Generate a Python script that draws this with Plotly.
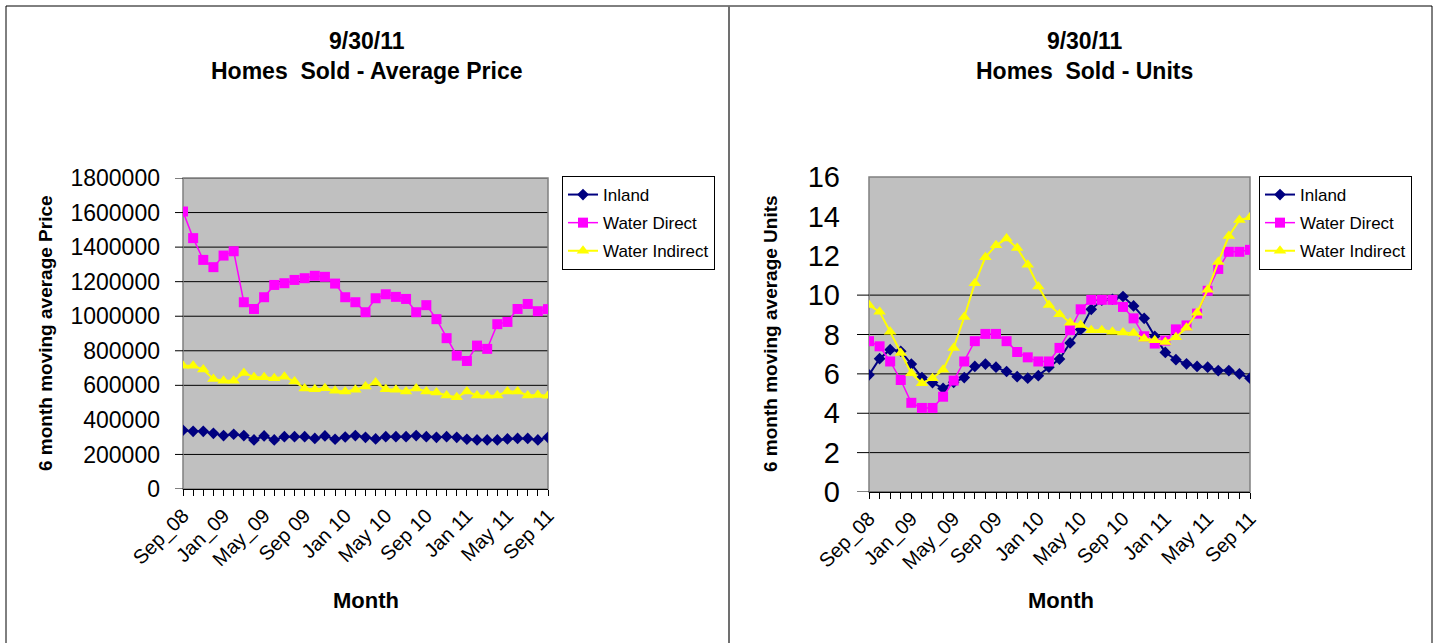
import plotly.graph_objects as go

# ---------------- data ----------------
months = ["Sep_08", "Oct_08", "Nov_08", "Dec_08", "Jan_09", "Feb_09", "Mar_09", "Apr_09",
          "May_09", "Jun_09", "Jul_09", "Aug_09", "Sep 09", "Oct 09", "Nov 09", "Dec 09",
          "Jan 10", "Feb 10", "Mar 10", "Apr 10", "May 10", "Jun 10", "Jul 10", "Aug 10",
          "Sep 10", "Oct 10", "Nov 10", "Dec 10", "Jan 11", "Feb 11", "Mar 11", "Apr 11",
          "May 11", "Jun 11", "Jul 11", "Aug 11", "Sep 11"]

price_inland = [340000, 334000, 334000, 322000, 309000, 317000, 309000, 284000, 307000, 284000,
                303000, 303000, 303000, 293000, 307000, 288000, 301000, 309000, 299000, 290000,
                303000, 303000, 303000, 309000, 303000, 299000, 303000, 299000, 288000, 284000,
                284000, 284000, 290000, 293000, 293000, 284000, 299000]
price_water_direct = [1606000, 1452000, 1326000, 1284000, 1351000, 1376000, 1081000, 1042000,
                      1110000, 1181000, 1191000, 1210000, 1220000, 1234000, 1228000, 1189000,
                      1110000, 1081000, 1023000, 1104000, 1127000, 1112000, 1100000, 1023000,
                      1064000, 983000, 873000, 772000, 741000, 830000, 811000, 954000, 967000,
                      1042000, 1071000, 1029000, 1041000]
price_water_indirect = [714000, 714000, 691000, 637000, 627000, 627000, 672000, 647000, 647000,
                        641000, 649000, 622000, 581000, 577000, 583000, 569000, 564000, 575000,
                        593000, 616000, 577000, 575000, 564000, 581000, 564000, 558000, 541000,
                        531000, 564000, 541000, 539000, 541000, 564000, 564000, 541000, 544000,
                        539000]

units_inland = [5.95, 6.77, 7.23, 7.15, 6.50, 5.81, 5.56, 5.26, 5.57, 5.81, 6.38, 6.50, 6.34,
                6.12, 5.86, 5.78, 5.91, 6.34, 6.75, 7.57, 8.26, 9.28, 9.74, 9.79, 9.93, 9.45,
                8.82, 7.91, 7.09, 6.72, 6.51, 6.38, 6.34, 6.17, 6.17, 6.00, 5.78]
units_water_direct = [7.66, 7.40, 6.63, 5.69, 4.53, 4.27, 4.27, 4.84, 5.66, 6.63, 7.66, 8.03,
                      8.03, 7.66, 7.11, 6.84, 6.63, 6.63, 7.32, 8.22, 9.28, 9.76, 9.76, 9.76,
                      9.40, 8.82, 7.91, 7.54, 7.69, 8.26, 8.46, 9.06, 10.22, 11.33, 12.20,
                      12.20, 12.30]
units_water_indirect = [9.50, 9.15, 8.14, 7.06, 6.03, 5.52, 5.78, 6.21, 7.32, 8.89, 10.60,
                        11.93, 12.53, 12.87, 12.39, 11.54, 10.44, 9.50, 9.03, 8.60, 8.48, 8.21,
                        8.21, 8.14, 8.10, 8.07, 7.78, 7.71, 7.62, 7.86, 8.34, 9.11, 10.27, 11.68,
                        13.00, 13.81, 13.95]

series_names = ["Inland", "Water Direct", "Water Indirect"]
price_ticks = [0, 200000, 400000, 600000, 800000, 1000000, 1200000, 1400000, 1600000, 1800000]
price_grid = [200000, 600000, 800000, 1000000, 1200000, 1400000, 1600000, 1800000]
units_grid = [0, 2, 4, 6, 8, 10]

# ---------------- styling ----------------
FONT = "Arial, Liberation Sans, sans-serif"
W, H = 1434, 643
colors = ["#000080", "#FF00FF", "#FFFF00"]
symbols = ["diamond", "square", "triangle-up"]
msizes = [9, 10, 11]
lwidths = [2, 1.5, 2]

x_idx = list(range(len(months)))
ticktext = [m if i % 4 == 0 else "" for i, m in enumerate(months)]

fig = go.Figure()

for i, (name, vals) in enumerate(zip(series_names,
                                      [price_inland, price_water_direct, price_water_indirect])):
    fig.add_trace(go.Scatter(
        x=x_idx, y=vals, name=name, mode="lines+markers",
        line=dict(color=colors[i], width=lwidths[i]),
        marker=dict(color=colors[i], symbol=symbols[i], size=msizes[i], line=dict(width=0)),
        xaxis="x", yaxis="y", legend="legend", legendgroup="L%d" % i))

for i, (name, vals) in enumerate(zip(series_names,
                                      [units_inland, units_water_direct, units_water_indirect])):
    fig.add_trace(go.Scatter(
        x=x_idx, y=vals, name=name, mode="lines+markers",
        line=dict(color=colors[i], width=lwidths[i]),
        marker=dict(color=colors[i], symbol=symbols[i], size=msizes[i], line=dict(width=0)),
        xaxis="x2", yaxis="y2", legend="legend2", legendgroup="R%d" % i))


def px_x(p):
    return p / W


def px_y(p):
    return 1 - p / H


xcommon = dict(range=[0, len(months) - 1], showgrid=False, zeroline=False, automargin=False,
               showline=True, linecolor="black", linewidth=1,
               tickmode="array", tickvals=x_idx, ticktext=ticktext,
               ticks="outside", ticklen=6, tickcolor="black", tickwidth=1,
               tickangle=-45, tickfont=dict(family=FONT, size=20, color="black"))

legend_common = dict(xanchor="left", yanchor="top",
                     bgcolor="white", bordercolor="black", borderwidth=1,
                     font=dict(family=FONT, size=17, color="black"),
                     itemwidth=30, tracegroupgap=3)

fig.update_layout(
    width=W, height=H,
    margin=dict(l=0, r=0, t=0, b=0, pad=0),
    autosize=False,
    paper_bgcolor="white",
    plot_bgcolor="#C0C0C0",
    font=dict(family=FONT, color="black"),
    xaxis=dict(domain=[px_x(183), px_x(548)], anchor="y", **xcommon),
    yaxis=dict(domain=[px_y(489), px_y(178)], anchor="x", range=[0, 1800000],
               showgrid=False, zeroline=False, showline=False, automargin=False,
               tickmode="array", tickvals=price_ticks,
               ticktext=[str(v) for v in price_ticks], ticks="",
               ticklabelstandoff=22,
               tickfont=dict(family=FONT, size=23, color="black")),
    xaxis2=dict(domain=[px_x(869), px_x(1250)], anchor="y2", **xcommon),
    yaxis2=dict(domain=[px_y(492), px_y(177)], anchor="x2", range=[0, 16],
               showgrid=False, zeroline=False, showline=False, automargin=False,
               tickmode="linear", tick0=0, dtick=2, ticks="",
               ticklabelstandoff=28,
               tickfont=dict(family=FONT, size=29, color="black")),
    legend=dict(x=px_x(562), y=px_y(176), **legend_common),
    legend2=dict(x=px_x(1259), y=px_y(176), **legend_common),
    showlegend=True,
)

shapes = []
# gridlines and y ticks (left)
for v in price_grid:
    shapes.append(dict(type="line", xref="x domain", yref="y", x0=0, x1=1, y0=v, y1=v,
                       line=dict(color="black", width=1), layer="below"))
for v in price_grid + [0]:
    shapes.append(dict(type="line", xref="x domain", yref="y", x0=-8 / 365, x1=0, y0=v, y1=v,
                       line=dict(color="black", width=1)))
# gridlines and y ticks (right)
for v in units_grid:
    shapes.append(dict(type="line", xref="x2 domain", yref="y2", x0=0, x1=1, y0=v, y1=v,
                       line=dict(color="black", width=1), layer="below"))
    shapes.append(dict(type="line", xref="x2 domain", yref="y2", x0=-12 / 381, x1=0, y0=v, y1=v,
                       line=dict(color="black", width=1)))
# plot area frames
for xr, yr in [("x domain", "y domain"), ("x2 domain", "y2 domain")]:
    shapes.append(dict(type="rect", xref=xr, yref=yr, x0=0, x1=1, y0=0, y1=1,
                       line=dict(color="#808080", width=1.5), layer="below"))
# panel borders
shapes.append(dict(type="line", xref="paper", yref="paper", x0=px_x(6), x1=px_x(6),
                   y0=0, y1=px_y(6), line=dict(color="black", width=1)))
shapes.append(dict(type="line", xref="paper", yref="paper", x0=px_x(6), x1=px_x(1432),
                   y0=px_y(6), y1=px_y(6), line=dict(color="black", width=1)))
shapes.append(dict(type="line", xref="paper", yref="paper", x0=px_x(729), x1=px_x(729),
                   y0=0, y1=px_y(6), line=dict(color="#707070", width=2)))
shapes.append(dict(type="line", xref="paper", yref="paper", x0=px_x(1432), x1=px_x(1432),
                   y0=0, y1=px_y(6), line=dict(color="black", width=1)))
fig.update_layout(shapes=shapes)

ann = []
ann.append(dict(text="<b>9/30/11<br>Homes  Sold - Average Price</b>", x=px_x(367), y=px_y(56),
                xref="paper", yref="paper", showarrow=False, xanchor="center", yanchor="middle",
                font=dict(family=FONT, size=23, color="black")))
ann.append(dict(text="<b>9/30/11<br>Homes  Sold - Units</b>", x=px_x(1084), y=px_y(56),
                xref="paper", yref="paper", showarrow=False, xanchor="center", yanchor="middle",
                font=dict(family=FONT, size=23, color="black")))
ann.append(dict(text="<b>Month</b>", x=px_x(366), y=px_y(600), xref="paper", yref="paper",
                showarrow=False, xanchor="center", yanchor="middle",
                font=dict(family=FONT, size=22, color="black")))
ann.append(dict(text="<b>Month</b>", x=px_x(1061), y=px_y(600), xref="paper", yref="paper",
                showarrow=False, xanchor="center", yanchor="middle",
                font=dict(family=FONT, size=22, color="black")))
ann.append(dict(text="<b>6 month moving average Price</b>", x=px_x(45), y=px_y(333),
                xref="paper", yref="paper", showarrow=False, textangle=-90,
                xanchor="center", yanchor="middle",
                font=dict(family=FONT, size=19, color="black")))
ann.append(dict(text="<b>6 month moving average Units</b>", x=px_x(770), y=px_y(334),
                xref="paper", yref="paper", showarrow=False, textangle=-90,
                xanchor="center", yanchor="middle",
                font=dict(family=FONT, size=19, color="black")))
fig.update_layout(annotations=ann)

fig.write_html("out.html", config={"displayModeBar": False},
               post_script="document.body.style.margin='0';document.body.style.overflow='hidden';")
